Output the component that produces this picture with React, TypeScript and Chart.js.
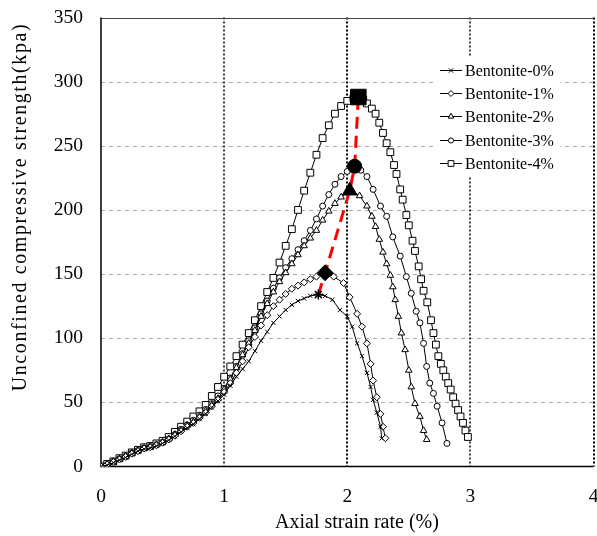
import React, { useEffect, useRef } from "react";
import { Chart, registerables } from "chart.js";

Chart.register(...registerables);

// ---- data ----
const seriesLabels = ["Bentonite-0%", "Bentonite-1%", "Bentonite-2%", "Bentonite-3%", "Bentonite-4%"];

const strain0 = [0, 0.05, 0.1, 0.15, 0.2, 0.25, 0.3, 0.35, 0.4, 0.45, 0.5, 0.55, 0.6, 0.65, 0.7, 0.75, 0.8, 0.85, 0.9, 0.95, 1.0, 1.05, 1.1, 1.15, 1.2, 1.25, 1.3, 1.35, 1.4, 1.45, 1.5, 1.55, 1.6, 1.65, 1.7, 1.765, 1.82, 1.88, 1.94, 2.0, 2.04, 2.08, 2.12, 2.16, 2.19, 2.21, 2.24, 2.27, 2.28];
const stress0 = [0, 1, 3, 5, 7, 9.5, 12, 13.5, 14.5, 16, 18, 20.5, 23.5, 27, 30, 33, 37, 41, 46, 51, 56, 63, 70, 76, 82, 90, 98, 105, 112, 117, 122, 126, 129, 131, 133, 134, 133, 130, 122, 117, 109, 96, 86, 73, 62, 52, 42, 31, 22];

const strain1 = [0, 0.05, 0.1, 0.15, 0.2, 0.25, 0.3, 0.35, 0.4, 0.45, 0.5, 0.55, 0.6, 0.65, 0.7, 0.75, 0.8, 0.85, 0.9, 0.95, 1.0, 1.05, 1.1, 1.15, 1.2, 1.25, 1.3, 1.35, 1.4, 1.45, 1.5, 1.55, 1.6, 1.65, 1.7, 1.75, 1.82, 1.89, 1.97, 2.02, 2.08, 2.12, 2.16, 2.19, 2.21, 2.24, 2.27, 2.29, 2.31];
const stress1 = [0, 1.5, 3.5, 5.5, 7.5, 10, 12, 14, 15, 16.5, 18.5, 21, 24, 27.5, 31, 34, 38, 42, 47, 52, 58, 65, 73, 82, 93, 101, 110, 118, 125, 130, 134.5, 138.5, 141, 143.5, 146, 148, 151, 148, 143, 132, 119, 109, 96, 80, 67, 54, 41, 31, 22];

const strain2 = [0, 0.05, 0.1, 0.15, 0.2, 0.25, 0.3, 0.35, 0.4, 0.45, 0.5, 0.55, 0.6, 0.65, 0.7, 0.75, 0.8, 0.85, 0.9, 0.95, 1.0, 1.05, 1.1, 1.15, 1.2, 1.25, 1.3, 1.35, 1.4, 1.45, 1.5, 1.55, 1.6, 1.65, 1.7, 1.75, 1.8, 1.85, 1.9, 1.95, 2.02, 2.1, 2.16, 2.2, 2.23, 2.26, 2.29, 2.32, 2.35, 2.37, 2.39, 2.415, 2.44, 2.47, 2.5, 2.52, 2.55, 2.59, 2.62, 2.645];
const stress2 = [0, 1.5, 3.5, 6, 8, 10.5, 12.5, 14, 15.5, 17, 19, 21.5, 25, 28.5, 32, 35, 39, 43.5, 48, 53, 60, 68, 77, 87, 96, 106, 117, 127, 136, 144, 151, 158, 165, 172, 178, 184, 192, 199, 205, 210, 215, 211, 203, 195, 187, 177, 167, 158, 149, 140, 130, 117, 104, 91, 75, 62, 49, 39, 28, 21];

const strain3 = [0, 0.05, 0.1, 0.15, 0.2, 0.25, 0.3, 0.35, 0.4, 0.45, 0.5, 0.55, 0.6, 0.65, 0.7, 0.75, 0.8, 0.85, 0.9, 0.95, 1.0, 1.05, 1.1, 1.15, 1.2, 1.25, 1.3, 1.35, 1.4, 1.45, 1.5, 1.55, 1.6, 1.65, 1.7, 1.75, 1.8, 1.85, 1.9, 1.95, 2.0, 2.06, 2.11, 2.16, 2.21, 2.27, 2.32, 2.37, 2.43, 2.48, 2.52, 2.56, 2.59, 2.62, 2.645, 2.67, 2.7, 2.73, 2.77, 2.81];
const stress3 = [0, 1.5, 4, 6, 8, 10.5, 12.5, 14.5, 15.5, 17, 19, 21.5, 25, 29, 32.5, 36, 40, 44.5, 49, 55, 61, 69, 78, 88, 98, 108, 119, 129, 139, 147, 155, 162, 169, 176, 184, 193, 203, 212, 220, 226, 230, 234, 231, 226, 216, 203, 195, 179, 164, 148, 135, 121, 112, 96, 78, 65, 57, 47, 34, 18];

const strain4 = [0, 0.05, 0.1, 0.15, 0.2, 0.25, 0.3, 0.35, 0.4, 0.45, 0.5, 0.55, 0.6, 0.65, 0.7, 0.75, 0.8, 0.85, 0.9, 0.95, 1.0, 1.05, 1.1, 1.15, 1.2, 1.25, 1.3, 1.35, 1.4, 1.45, 1.5, 1.55, 1.6, 1.65, 1.7, 1.75, 1.8, 1.85, 1.9, 1.95, 2.0, 2.05, 2.09, 2.13, 2.16, 2.2, 2.23, 2.26, 2.29, 2.32, 2.35, 2.38, 2.4, 2.43, 2.45, 2.48, 2.5, 2.53, 2.55, 2.58, 2.6, 2.62, 2.65, 2.68, 2.7, 2.72, 2.74, 2.76, 2.78, 2.8, 2.82, 2.84, 2.86, 2.88, 2.9, 2.92, 2.94, 2.96, 2.98];
const stress4 = [0, 2, 4, 6.5, 8.5, 11, 13, 15, 16, 18, 20, 23, 27, 31, 35, 39, 43, 48, 55, 62, 70, 78, 86, 95, 104, 114, 125, 136, 147, 159, 172, 185, 200, 215, 229, 243, 256, 266, 275, 281, 285, 287, 288, 286, 283, 279, 275, 268, 260, 252, 245, 235, 228, 216, 208, 196, 188, 176, 168, 156, 146, 137, 128, 114, 104, 95, 86, 80, 75, 70, 65, 60, 54, 49, 44, 39, 34, 28, 23];

const peakStrain = [1.765, 1.82, 2.02, 2.06, 2.09];
const peakStress = [134, 151, 215, 234, 288];

const xTicks = [0, 1, 2, 3, 4];
const yTicks = [0, 50, 100, 150, 200, 250, 300, 350];

const xTitle = "Axial strain rate (%)";
const yTitle = "Unconfined compressive strength(kpa)";

// ---- styles ----
const markerStyles = ["crossRot", "rectRot", "triangle", "circle", "rect"];
const markerRadii = [3, 3.5, 3.8, 3, 4.8];
const peakStyles = ["star", "rectRot", "triangle", "circle", "rect"];
const peakRadii = [5, 8, 8.5, 7, 11];

const SERIF = '"Liberation Serif", "Times New Roman", serif';

function toPoints(xs: number[], ys: number[]) {
  return xs.map((x, i) => ({ x, y: ys[i] }));
}

function drawMarker(ctx: CanvasRenderingContext2D, style: string, x: number, y: number, r: number) {
  ctx.beginPath();
  if (style === "circle") {
    ctx.arc(x, y, r, 0, Math.PI * 2);
    ctx.fill();
    ctx.stroke();
  } else if (style === "rect") {
    const s = r * Math.SQRT1_2;
    ctx.rect(x - s, y - s, 2 * s, 2 * s);
    ctx.fill();
    ctx.stroke();
  } else if (style === "rectRot") {
    ctx.moveTo(x, y - r);
    ctx.lineTo(x + r, y);
    ctx.lineTo(x, y + r);
    ctx.lineTo(x - r, y);
    ctx.closePath();
    ctx.fill();
    ctx.stroke();
  } else if (style === "triangle") {
    for (let k = 0; k < 3; k++) {
      const a = -Math.PI / 2 + (k * 2 * Math.PI) / 3;
      const px = x + Math.cos(a) * r;
      const py = y + Math.sin(a) * r;
      if (k === 0) ctx.moveTo(px, py);
      else ctx.lineTo(px, py);
    }
    ctx.closePath();
    ctx.fill();
    ctx.stroke();
  } else if (style === "crossRot") {
    const s = r * Math.SQRT1_2 * 1.2;
    ctx.moveTo(x - s, y - s);
    ctx.lineTo(x + s, y + s);
    ctx.moveTo(x + s, y - s);
    ctx.lineTo(x - s, y + s);
    ctx.moveTo(x - r * 1.2, y);
    ctx.lineTo(x + r * 1.2, y);
    ctx.stroke();
  }
}

const decorPlugin = {
  id: "decor",
  beforeDatasetsDraw(chart: any) {
    const { ctx, chartArea, scales } = chart;
    const xs = scales.x;
    const ys = scales.y;
    ctx.save();
    // horizontal dashed grid lines
    ctx.strokeStyle = "#a8a8a8";
    ctx.lineWidth = 1;
    ctx.setLineDash([4, 4]);
    yTicks.forEach((v) => {
      if (v === 0 || v === 350) return;
      const py = Math.round(ys.getPixelForValue(v)) + 0.5;
      ctx.beginPath();
      ctx.moveTo(chartArea.left, py);
      ctx.lineTo(chartArea.right, py);
      ctx.stroke();
    });
    // vertical dotted grid lines
    ctx.strokeStyle = "#000";
    ctx.setLineDash([2, 2]);
    xTicks.forEach((v) => {
      if (v === 0) return;
      const px = Math.round(xs.getPixelForValue(v));
      ctx.lineWidth = v === 2 || v === 4 ? 2 : 1.5;
      ctx.beginPath();
      ctx.moveTo(px, chartArea.top);
      ctx.lineTo(px, chartArea.bottom);
      ctx.stroke();
    });
    ctx.setLineDash([]);
    // top border
    ctx.strokeStyle = "#444";
    ctx.lineWidth = 1;
    ctx.beginPath();
    ctx.moveTo(chartArea.left, Math.round(chartArea.top) + 0.5);
    ctx.lineTo(chartArea.right, Math.round(chartArea.top) + 0.5);
    ctx.stroke();
    // left and bottom axes
    ctx.strokeStyle = "#000";
    ctx.lineWidth = 1.5;
    ctx.beginPath();
    ctx.moveTo(chartArea.left, chartArea.top);
    ctx.lineTo(chartArea.left, chartArea.bottom);
    ctx.lineTo(chartArea.right, chartArea.bottom);
    ctx.stroke();
    ctx.restore();
  },
  afterDatasetsDraw(chart: any) {
    const { ctx } = chart;
    ctx.save();
    // legend box
    ctx.fillStyle = "#fff";
    ctx.fillRect(434, 57, 126, 119);
    ctx.font = `16px ${SERIF}`;
    ctx.textBaseline = "middle";
    ctx.textAlign = "left";
    seriesLabels.forEach((label, i) => {
      const y = Math.round(70 + i * 23.2) + 0.5;
      ctx.strokeStyle = "#000";
      ctx.lineWidth = 1;
      ctx.beginPath();
      ctx.moveTo(440, y);
      ctx.lineTo(462, y);
      ctx.stroke();
      ctx.fillStyle = "#fff";
      drawMarker(ctx, markerStyles[i], 451, y, markerRadii[i] * 0.85);
      ctx.fillStyle = "#000";
      ctx.fillText(label, 465, y + 1);
    });
    ctx.restore();
  },
  afterDraw(chart: any) {
    const { ctx } = chart;
    ctx.save();
    ctx.fillStyle = "#000";
    ctx.textAlign = "center";
    ctx.textBaseline = "middle";
    ctx.font = `20px ${SERIF}`;
    ctx.fillText(xTitle, 357, 523);
    ctx.translate(21, 207);
    ctx.rotate(-Math.PI / 2);
    try {
      (ctx as any).letterSpacing = "1.6px";
    } catch (e) {}
    ctx.fillText(yTitle, 0, 0);
    ctx.restore();
  },
};

export default function App() {
  const canvasRef = useRef<HTMLCanvasElement | null>(null);

  useEffect(() => {
    document.body.style.margin = "0";
    const canvas = canvasRef.current;
    if (!canvas) return;

    const strains = [strain0, strain1, strain2, strain3, strain4];
    const stresses = [stress0, stress1, stress2, stress3, stress4];

    const seriesSets = seriesLabels.map((label, i) => ({
      type: "scatter" as const,
      label,
      data: toPoints(strains[i], stresses[i]),
      showLine: true,
      borderColor: "#000",
      borderWidth: 1,
      backgroundColor: "#fff",
      pointStyle: markerStyles[i],
      pointRadius: markerRadii[i],
      pointBorderColor: "#000",
      pointBorderWidth: 1,
      pointBackgroundColor: "#fff",
      order: 10 + i,
    }));

    const trend = {
      type: "scatter" as const,
      label: "trend",
      data: toPoints(peakStrain, peakStress),
      showLine: true,
      borderColor: "#ff0000",
      borderWidth: 3,
      borderDash: [12, 7],
      pointRadius: 0,
      order: 2,
    };

    const peaks = {
      type: "scatter" as const,
      label: "peaks",
      data: toPoints(peakStrain, peakStress),
      showLine: false,
      pointStyle: peakStyles,
      pointRadius: peakRadii,
      pointBackgroundColor: "#000",
      pointBorderColor: "#000",
      pointBorderWidth: [1.5, 1, 1, 1, 1],
      order: 1,
    };

    const chart = new Chart(canvas, {
      type: "scatter",
      data: { datasets: [peaks, trend, ...seriesSets] as any },
      options: {
        animation: false,
        responsive: false,
        devicePixelRatio: 1,
        layout: { autoPadding: false, padding: { left: 0, right: 3.5, top: 17.5, bottom: 0 } },
        plugins: {
          legend: { display: false },
          tooltip: { enabled: false },
          title: { display: false },
        },
        scales: {
          x: {
            type: "linear",
            min: 0,
            max: 4,
            grid: { display: false, drawTicks: false },
            border: { display: false },
            ticks: {
              stepSize: 1,
              color: "#000",
              padding: 19,
              font: { family: SERIF, size: 19.5 },
            },
            afterFit: (scale: any) => {
              scale.height = 69.5;
              scale.paddingLeft = 0;
              scale.paddingRight = 0;
            },
          },
          y: {
            type: "linear",
            min: 0,
            max: 350,
            grid: { display: false, drawTicks: false },
            border: { display: false },
            ticks: {
              stepSize: 50,
              color: "#000",
              padding: 18,
              font: { family: SERIF, size: 19.5 },
            },
            afterFit: (scale: any) => {
              scale.width = 101;
              scale.paddingTop = 0;
              scale.paddingBottom = 0;
            },
          },
        },
      },
      plugins: [decorPlugin],
    });

    return () => {
      chart.destroy();
    };
  }, []);

  return (
    <div style={{ width: 597, height: 536, background: "#fff" }}>
      <canvas ref={canvasRef} width={597} height={536} style={{ display: "block" }} />
    </div>
  );
}
